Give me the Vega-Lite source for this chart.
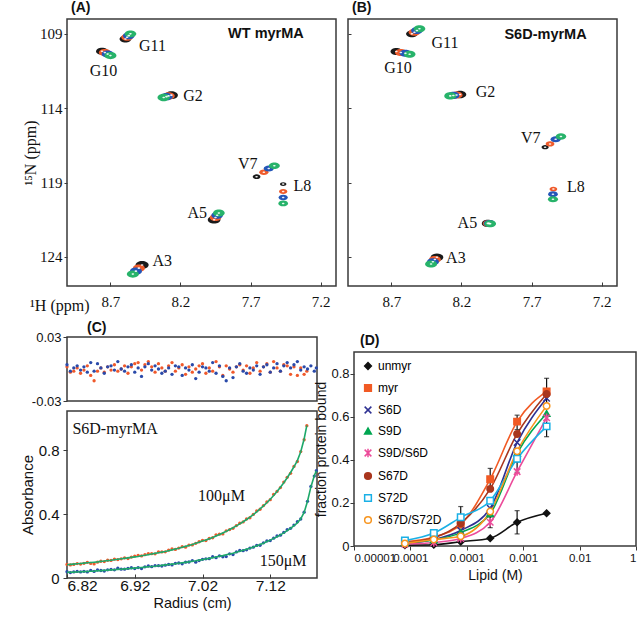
{
"$schema": "https://vega.github.io/schema/vega-lite/v6.json",
"padding": {"left": 3, "top": 0, "right": 0, "bottom": 0},
"background": "white",
"spacing": 6,
"resolve": {"scale": {"fill": "independent", "stroke": "independent", "shape": "independent", "color": "independent", "size": "independent"}, "legend": {"stroke": "independent", "fill": "independent", "shape": "independent", "color": "independent", "size": "independent"}},
"config": {
 "font": "Liberation Sans",
 "view": {"stroke": "#3a3a3a", "strokeWidth": 1.5},
 "axis": {"domain": false, "grid": false, "tickColor": "#3a3a3a", "labelColor": "#111", "titleColor": "#111", "titleFontWeight": "normal", "labelOverlap": false},
 "title": {"anchor": "start", "frame": "group", "fontWeight": "bold", "fontSize": 14, "font": "Liberation Sans", "color": "#111"}
},
"datasets": {
 "nmr": [
  {"panel":"A","res":"G11","step":"0","H":8.593,"N":109.34,"int":0.8},{"panel":"A","res":"G11","step":"1","H":8.581,"N":109.23,"int":0.8},{"panel":"A","res":"G11","step":"2","H":8.569,"N":109.12,"int":0.8},{"panel":"A","res":"G11","step":"3","H":8.557,"N":109.0,"int":0.8},
  {"panel":"A","res":"G10","step":"0","H":8.76,"N":110.17,"int":0.85},{"panel":"A","res":"G10","step":"1","H":8.74,"N":110.26,"int":0.85},{"panel":"A","res":"G10","step":"2","H":8.72,"N":110.36,"int":0.85},{"panel":"A","res":"G10","step":"3","H":8.70,"N":110.46,"int":0.85},
  {"panel":"A","res":"G2","step":"0","H":8.265,"N":113.12,"int":1.0},{"panel":"A","res":"G2","step":"1","H":8.285,"N":113.17,"int":0.9},{"panel":"A","res":"G2","step":"2","H":8.30,"N":113.22,"int":0.9},{"panel":"A","res":"G2","step":"3","H":8.32,"N":113.28,"int":0.9},
  {"panel":"A","res":"A3","step":"0","H":8.474,"N":124.54,"int":1.0},{"panel":"A","res":"A3","step":"1","H":8.497,"N":124.75,"int":0.85},{"panel":"A","res":"A3","step":"2","H":8.518,"N":124.95,"int":0.85},{"panel":"A","res":"A3","step":"3","H":8.54,"N":125.15,"int":0.85},
  {"panel":"A","res":"A5","step":"0","H":7.96,"N":121.5,"int":0.95},{"panel":"A","res":"A5","step":"1","H":7.95,"N":121.35,"int":0.8},{"panel":"A","res":"A5","step":"2","H":7.938,"N":121.2,"int":0.8},{"panel":"A","res":"A5","step":"3","H":7.926,"N":121.05,"int":0.8},
  {"panel":"A","res":"V7","step":"0","H":7.657,"N":118.6,"int":0.35},{"panel":"A","res":"V7","step":"1","H":7.605,"N":118.3,"int":0.5},{"panel":"A","res":"V7","step":"2","H":7.57,"N":118.05,"int":0.6},{"panel":"A","res":"V7","step":"3","H":7.53,"N":117.87,"int":0.7},
  {"panel":"A","res":"L8","step":"0","H":7.467,"N":119.1,"int":0.25},{"panel":"A","res":"L8","step":"1","H":7.467,"N":119.6,"int":0.4},{"panel":"A","res":"L8","step":"2","H":7.467,"N":120.0,"int":0.5},{"panel":"A","res":"L8","step":"3","H":7.467,"N":120.4,"int":0.55},
  {"panel":"B","res":"G11","step":"0","H":8.554,"N":109.0,"int":0.8},{"panel":"B","res":"G11","step":"1","H":8.536,"N":108.89,"int":0.8},{"panel":"B","res":"G11","step":"2","H":8.518,"N":108.78,"int":0.8},{"panel":"B","res":"G11","step":"3","H":8.5,"N":108.66,"int":0.8},
  {"panel":"B","res":"G10","step":"0","H":8.665,"N":110.19,"int":0.8},{"panel":"B","res":"G10","step":"1","H":8.633,"N":110.25,"int":0.8},{"panel":"B","res":"G10","step":"2","H":8.6,"N":110.31,"int":0.8},{"panel":"B","res":"G10","step":"3","H":8.57,"N":110.37,"int":0.8},
  {"panel":"B","res":"G2","step":"0","H":8.21,"N":113.08,"int":0.9},{"panel":"B","res":"G2","step":"1","H":8.235,"N":113.11,"int":0.85},{"panel":"B","res":"G2","step":"2","H":8.258,"N":113.14,"int":0.85},{"panel":"B","res":"G2","step":"3","H":8.28,"N":113.17,"int":0.85},
  {"panel":"B","res":"A5","step":"0","H":8.012,"N":121.74,"int":0.85},{"panel":"B","res":"A5","step":"1","H":8.006,"N":121.74,"int":0.8},{"panel":"B","res":"A5","step":"2","H":8.0,"N":121.75,"int":0.8},{"panel":"B","res":"A5","step":"3","H":7.995,"N":121.76,"int":0.8},
  {"panel":"B","res":"A3","step":"0","H":8.375,"N":124.02,"int":0.95},{"panel":"B","res":"A3","step":"1","H":8.39,"N":124.17,"int":0.85},{"panel":"B","res":"A3","step":"2","H":8.404,"N":124.32,"int":0.85},{"panel":"B","res":"A3","step":"3","H":8.417,"N":124.47,"int":0.85},
  {"panel":"B","res":"V7","step":"0","H":7.603,"N":116.62,"int":0.3},{"panel":"B","res":"V7","step":"1","H":7.568,"N":116.4,"int":0.45},{"panel":"B","res":"V7","step":"2","H":7.528,"N":116.08,"int":0.6},{"panel":"B","res":"V7","step":"3","H":7.49,"N":115.9,"int":0.65},
  {"panel":"B","res":"L8","step":"1","H":7.544,"N":119.43,"int":0.35},{"panel":"B","res":"L8","step":"2","H":7.547,"N":119.78,"int":0.55},{"panel":"B","res":"L8","step":"3","H":7.547,"N":120.12,"int":0.6}
 ],
 "nmrlab": [
  {"panel":"A","kind":"peak","label":"G11","H":8.40,"N":109.79},{"panel":"A","kind":"peak","label":"G10","H":8.75,"N":111.5},{"panel":"A","kind":"peak","label":"G2","H":8.11,"N":113.17},{"panel":"A","kind":"peak","label":"V7","H":7.72,"N":117.78},{"panel":"A","kind":"peak","label":"L8","H":7.33,"N":119.2},{"panel":"A","kind":"peak","label":"A5","H":8.08,"N":121.05},{"panel":"A","kind":"peak","label":"A3","H":8.33,"N":124.3},
  {"panel":"A","kind":"title","label":"WT myrMA","H":7.59,"N":109.0},
  {"panel":"B","kind":"peak","label":"G11","H":8.318,"N":109.63},{"panel":"B","kind":"peak","label":"G10","H":8.653,"N":111.31},{"panel":"B","kind":"peak","label":"G2","H":8.028,"N":112.88},{"panel":"B","kind":"peak","label":"V7","H":7.705,"N":116.02},{"panel":"B","kind":"peak","label":"L8","H":7.384,"N":119.27},{"panel":"B","kind":"peak","label":"A5","H":8.158,"N":121.74},{"panel":"B","kind":"peak","label":"A3","H":8.24,"N":124.04},
  {"panel":"B","kind":"title","label":"S6D-myrMA","H":7.60,"N":109.07}
 ],
 "auc": [
  {"conc":"100μM","r":6.820,"fit":0.083,"res":0.002,"abs":0.085},{"conc":"100μM","r":6.825,"fit":0.085,"res":-0.003,"abs":0.082},{"conc":"100μM","r":6.830,"fit":0.087,"res":-0.002,"abs":0.085},{"conc":"100μM","r":6.835,"fit":0.089,"res":0.001,"abs":0.090},{"conc":"100μM","r":6.840,"fit":0.091,"res":-0.004,"abs":0.087},{"conc":"100μM","r":6.845,"fit":0.093,"res":-0.001,"abs":0.092},{"conc":"100μM","r":6.850,"fit":0.095,"res":0.003,"abs":0.098},{"conc":"100μM","r":6.855,"fit":0.097,"res":-0.006,"abs":0.091},{"conc":"100μM","r":6.860,"fit":0.099,"res":-0.011,"abs":0.088},{"conc":"100μM","r":6.865,"fit":0.101,"res":-0.002,"abs":0.099},
  {"conc":"100μM","r":6.870,"fit":0.104,"res":0.001,"abs":0.105},{"conc":"100μM","r":6.875,"fit":0.106,"res":-0.003,"abs":0.103},{"conc":"100μM","r":6.880,"fit":0.109,"res":0.002,"abs":0.111},{"conc":"100μM","r":6.885,"fit":0.111,"res":-0.001,"abs":0.110},{"conc":"100μM","r":6.890,"fit":0.114,"res":0.004,"abs":0.118},{"conc":"100μM","r":6.895,"fit":0.117,"res":-0.002,"abs":0.115},{"conc":"100μM","r":6.900,"fit":0.120,"res":0.000,"abs":0.120},{"conc":"100μM","r":6.905,"fit":0.123,"res":0.003,"abs":0.126},{"conc":"100μM","r":6.910,"fit":0.126,"res":-0.004,"abs":0.122},{"conc":"100μM","r":6.915,"fit":0.129,"res":0.002,"abs":0.131},
  {"conc":"100μM","r":6.920,"fit":0.132,"res":0.005,"abs":0.137},{"conc":"100μM","r":6.925,"fit":0.135,"res":0.006,"abs":0.141},{"conc":"100μM","r":6.930,"fit":0.139,"res":-0.001,"abs":0.138},{"conc":"100μM","r":6.935,"fit":0.142,"res":0.004,"abs":0.146},{"conc":"100μM","r":6.940,"fit":0.146,"res":0.007,"abs":0.153},{"conc":"100μM","r":6.945,"fit":0.150,"res":0.002,"abs":0.152},{"conc":"100μM","r":6.950,"fit":0.154,"res":-0.003,"abs":0.151},{"conc":"100μM","r":6.955,"fit":0.158,"res":0.005,"abs":0.163},{"conc":"100μM","r":6.960,"fit":0.162,"res":0.001,"abs":0.163},{"conc":"100μM","r":6.965,"fit":0.166,"res":-0.002,"abs":0.164},
  {"conc":"100μM","r":6.970,"fit":0.171,"res":0.003,"abs":0.174},{"conc":"100μM","r":6.975,"fit":0.176,"res":0.006,"abs":0.182},{"conc":"100μM","r":6.980,"fit":0.181,"res":-0.002,"abs":0.179},{"conc":"100μM","r":6.985,"fit":0.186,"res":0.001,"abs":0.187},{"conc":"100μM","r":6.990,"fit":0.192,"res":0.004,"abs":0.196},{"conc":"100μM","r":6.995,"fit":0.198,"res":-0.005,"abs":0.193},{"conc":"100μM","r":7.000,"fit":0.204,"res":0.002,"abs":0.206},{"conc":"100μM","r":7.005,"fit":0.210,"res":-0.003,"abs":0.207},{"conc":"100μM","r":7.010,"fit":0.217,"res":0.000,"abs":0.217},{"conc":"100μM","r":7.015,"fit":0.224,"res":0.003,"abs":0.227},
  {"conc":"100μM","r":7.020,"fit":0.231,"res":0.005,"abs":0.236},{"conc":"100μM","r":7.025,"fit":0.238,"res":-0.004,"abs":0.234},{"conc":"100μM","r":7.030,"fit":0.246,"res":0.001,"abs":0.247},{"conc":"100μM","r":7.035,"fit":0.254,"res":-0.002,"abs":0.252},{"conc":"100μM","r":7.040,"fit":0.263,"res":0.007,"abs":0.270},{"conc":"100μM","r":7.045,"fit":0.272,"res":0.002,"abs":0.274},{"conc":"100μM","r":7.050,"fit":0.282,"res":-0.006,"abs":0.276},{"conc":"100μM","r":7.055,"fit":0.292,"res":0.003,"abs":0.295},{"conc":"100μM","r":7.060,"fit":0.303,"res":0.000,"abs":0.303},{"conc":"100μM","r":7.065,"fit":0.314,"res":-0.003,"abs":0.311},
  {"conc":"100μM","r":7.070,"fit":0.326,"res":0.002,"abs":0.328},{"conc":"100μM","r":7.075,"fit":0.339,"res":0.004,"abs":0.343},{"conc":"100μM","r":7.080,"fit":0.352,"res":-0.001,"abs":0.351},{"conc":"100μM","r":7.085,"fit":0.366,"res":0.003,"abs":0.369},{"conc":"100μM","r":7.090,"fit":0.381,"res":-0.004,"abs":0.377},{"conc":"100μM","r":7.095,"fit":0.397,"res":0.001,"abs":0.398},{"conc":"100μM","r":7.100,"fit":0.414,"res":0.006,"abs":0.420},{"conc":"100μM","r":7.105,"fit":0.432,"res":-0.002,"abs":0.430},{"conc":"100μM","r":7.110,"fit":0.451,"res":0.002,"abs":0.453},{"conc":"100μM","r":7.115,"fit":0.471,"res":0.005,"abs":0.476},
  {"conc":"100μM","r":7.120,"fit":0.493,"res":-0.003,"abs":0.490},{"conc":"100μM","r":7.125,"fit":0.516,"res":0.007,"abs":0.523},{"conc":"100μM","r":7.130,"fit":0.541,"res":0.001,"abs":0.542},{"conc":"100μM","r":7.135,"fit":0.568,"res":-0.002,"abs":0.566},{"conc":"100μM","r":7.140,"fit":0.596,"res":0.004,"abs":0.600},{"conc":"100μM","r":7.145,"fit":0.627,"res":0.003,"abs":0.630},{"conc":"100μM","r":7.150,"fit":0.660,"res":-0.005,"abs":0.655},{"conc":"100μM","r":7.155,"fit":0.696,"res":0.002,"abs":0.698},{"conc":"100μM","r":7.160,"fit":0.735,"res":-0.006,"abs":0.729},{"conc":"100μM","r":7.165,"fit":0.790,"res":0.001,"abs":0.791},
  {"conc":"100μM","r":7.170,"fit":0.870,"res":-0.005,"abs":0.865},{"conc":"100μM","r":7.174,"fit":0.955,"res":-0.002,"abs":0.953},
  {"conc":"150μM","r":6.820,"fit":0.035,"res":0.004,"abs":0.039},{"conc":"150μM","r":6.825,"fit":0.036,"res":-0.002,"abs":0.034},{"conc":"150μM","r":6.830,"fit":0.037,"res":0.001,"abs":0.038},{"conc":"150μM","r":6.835,"fit":0.038,"res":0.003,"abs":0.041},{"conc":"150μM","r":6.840,"fit":0.039,"res":-0.001,"abs":0.038},{"conc":"150μM","r":6.845,"fit":0.040,"res":0.002,"abs":0.042},{"conc":"150μM","r":6.850,"fit":0.041,"res":-0.003,"abs":0.038},{"conc":"150μM","r":6.855,"fit":0.042,"res":0.006,"abs":0.048},{"conc":"150μM","r":6.860,"fit":0.043,"res":-0.002,"abs":0.041},{"conc":"150μM","r":6.865,"fit":0.045,"res":0.005,"abs":0.050},
  {"conc":"150μM","r":6.870,"fit":0.046,"res":0.001,"abs":0.047},{"conc":"150μM","r":6.875,"fit":0.048,"res":-0.004,"abs":0.044},{"conc":"150μM","r":6.880,"fit":0.049,"res":0.002,"abs":0.051},{"conc":"150μM","r":6.885,"fit":0.051,"res":0.003,"abs":0.054},{"conc":"150μM","r":6.890,"fit":0.052,"res":-0.001,"abs":0.051},{"conc":"150μM","r":6.895,"fit":0.054,"res":0.007,"abs":0.061},{"conc":"150μM","r":6.900,"fit":0.055,"res":0.000,"abs":0.055},{"conc":"150μM","r":6.905,"fit":0.057,"res":-0.002,"abs":0.055},{"conc":"150μM","r":6.910,"fit":0.058,"res":0.002,"abs":0.060},{"conc":"150μM","r":6.915,"fit":0.060,"res":0.004,"abs":0.064},
  {"conc":"150μM","r":6.920,"fit":0.062,"res":-0.003,"abs":0.059},{"conc":"150μM","r":6.925,"fit":0.064,"res":0.001,"abs":0.065},{"conc":"150μM","r":6.930,"fit":0.066,"res":-0.007,"abs":0.059},{"conc":"150μM","r":6.935,"fit":0.068,"res":0.002,"abs":0.070},{"conc":"150μM","r":6.940,"fit":0.070,"res":0.005,"abs":0.075},{"conc":"150μM","r":6.945,"fit":0.072,"res":-0.001,"abs":0.071},{"conc":"150μM","r":6.950,"fit":0.074,"res":0.003,"abs":0.077},{"conc":"150μM","r":6.955,"fit":0.077,"res":0.000,"abs":0.077},{"conc":"150μM","r":6.960,"fit":0.079,"res":-0.004,"abs":0.075},{"conc":"150μM","r":6.965,"fit":0.082,"res":-0.002,"abs":0.080},
  {"conc":"150μM","r":6.970,"fit":0.084,"res":0.001,"abs":0.085},{"conc":"150μM","r":6.975,"fit":0.087,"res":-0.005,"abs":0.082},{"conc":"150μM","r":6.980,"fit":0.089,"res":0.003,"abs":0.092},{"conc":"150μM","r":6.985,"fit":0.092,"res":0.002,"abs":0.094},{"conc":"150μM","r":6.990,"fit":0.095,"res":-0.006,"abs":0.089},{"conc":"150μM","r":6.995,"fit":0.098,"res":0.001,"abs":0.099},{"conc":"150μM","r":7.000,"fit":0.101,"res":-0.001,"abs":0.100},{"conc":"150μM","r":7.005,"fit":0.105,"res":0.004,"abs":0.109},{"conc":"150μM","r":7.010,"fit":0.108,"res":-0.009,"abs":0.099},{"conc":"150μM","r":7.015,"fit":0.112,"res":-0.003,"abs":0.109},
  {"conc":"150μM","r":7.020,"fit":0.115,"res":0.002,"abs":0.117},{"conc":"150μM","r":7.025,"fit":0.119,"res":0.001,"abs":0.120},{"conc":"150μM","r":7.030,"fit":0.123,"res":-0.002,"abs":0.121},{"conc":"150μM","r":7.035,"fit":0.127,"res":0.006,"abs":0.133},{"conc":"150μM","r":7.040,"fit":0.131,"res":-0.004,"abs":0.127},{"conc":"150μM","r":7.045,"fit":0.136,"res":0.003,"abs":0.139},{"conc":"150μM","r":7.050,"fit":0.140,"res":-0.007,"abs":0.133},{"conc":"150μM","r":7.055,"fit":0.145,"res":-0.011,"abs":0.134},{"conc":"150μM","r":7.060,"fit":0.150,"res":0.001,"abs":0.151},{"conc":"150μM","r":7.065,"fit":0.155,"res":-0.008,"abs":0.147},
  {"conc":"150μM","r":7.070,"fit":0.161,"res":0.002,"abs":0.163},{"conc":"150μM","r":7.075,"fit":0.167,"res":0.005,"abs":0.172},{"conc":"150μM","r":7.080,"fit":0.173,"res":-0.002,"abs":0.171},{"conc":"150μM","r":7.085,"fit":0.180,"res":-0.004,"abs":0.176},{"conc":"150μM","r":7.090,"fit":0.186,"res":0.001,"abs":0.187},{"conc":"150μM","r":7.095,"fit":0.194,"res":-0.001,"abs":0.193},{"conc":"150μM","r":7.100,"fit":0.201,"res":0.003,"abs":0.204},{"conc":"150μM","r":7.105,"fit":0.210,"res":-0.005,"abs":0.205},{"conc":"150μM","r":7.110,"fit":0.218,"res":0.002,"abs":0.220},{"conc":"150μM","r":7.115,"fit":0.228,"res":0.004,"abs":0.232},
  {"conc":"150μM","r":7.120,"fit":0.237,"res":-0.003,"abs":0.234},{"conc":"150μM","r":7.125,"fit":0.248,"res":0.001,"abs":0.249},{"conc":"150μM","r":7.130,"fit":0.258,"res":0.005,"abs":0.263},{"conc":"150μM","r":7.135,"fit":0.270,"res":-0.002,"abs":0.268},{"conc":"150μM","r":7.140,"fit":0.282,"res":0.003,"abs":0.285},{"conc":"150μM","r":7.145,"fit":0.296,"res":0.006,"abs":0.302},{"conc":"150μM","r":7.150,"fit":0.310,"res":0.001,"abs":0.311},{"conc":"150μM","r":7.155,"fit":0.327,"res":0.004,"abs":0.331},{"conc":"150μM","r":7.160,"fit":0.345,"res":0.007,"abs":0.352},{"conc":"150μM","r":7.165,"fit":0.370,"res":-0.001,"abs":0.369},
  {"conc":"150μM","r":7.170,"fit":0.410,"res":0.002,"abs":0.412},{"conc":"150μM","r":7.175,"fit":0.480,"res":0.000,"abs":0.480},{"conc":"150μM","r":7.180,"fit":0.570,"res":0.003,"abs":0.573},{"conc":"150μM","r":7.185,"fit":0.640,"res":-0.002,"abs":0.638},{"conc":"150μM","r":7.188,"fit":0.670,"res":0.001,"abs":0.671}
 ],
 "clab": [
  {"label":"S6D-myrMA","r":6.828,"abs":0.93,"kind":"name"},
  {"label":"100μM","r":7.048,"abs":0.51,"kind":"conc"},
  {"label":"150μM","r":7.139,"abs":0.105,"kind":"conc"}
 ],
 "bind": [
  {"series":"unmyr","lipid":0.00008,"frac":0.004},{"series":"unmyr","lipid":0.00026,"frac":0.006},{"series":"unmyr","lipid":0.00078,"frac":0.02},{"series":"unmyr","lipid":0.0026,"frac":0.036},{"series":"unmyr","lipid":0.0078,"frac":0.11},{"series":"unmyr","lipid":0.026,"frac":0.152},
  {"series":"myr","lipid":0.00008,"frac":0.02},{"series":"myr","lipid":0.00026,"frac":0.042},{"series":"myr","lipid":0.00078,"frac":0.10},{"series":"myr","lipid":0.0026,"frac":0.31},{"series":"myr","lipid":0.0078,"frac":0.577},{"series":"myr","lipid":0.026,"frac":0.717},
  {"series":"S6D","lipid":0.00008,"frac":0.012},{"series":"S6D","lipid":0.00026,"frac":0.03},{"series":"S6D","lipid":0.00078,"frac":0.072},{"series":"S6D","lipid":0.0026,"frac":0.175},{"series":"S6D","lipid":0.0078,"frac":0.48},{"series":"S6D","lipid":0.026,"frac":0.685},
  {"series":"S9D","lipid":0.00008,"frac":0.015},{"series":"S9D","lipid":0.00026,"frac":0.028},{"series":"S9D","lipid":0.00078,"frac":0.062},{"series":"S9D","lipid":0.0026,"frac":0.15},{"series":"S9D","lipid":0.0078,"frac":0.43},{"series":"S9D","lipid":0.026,"frac":0.615},
  {"series":"S9D/S6D","lipid":0.00008,"frac":0.008},{"series":"S9D/S6D","lipid":0.00026,"frac":0.016},{"series":"S9D/S6D","lipid":0.00078,"frac":0.035},{"series":"S9D/S6D","lipid":0.0026,"frac":0.11},{"series":"S9D/S6D","lipid":0.0078,"frac":0.345},{"series":"S9D/S6D","lipid":0.026,"frac":0.595},
  {"series":"S67D","lipid":0.00008,"frac":0.015},{"series":"S67D","lipid":0.00026,"frac":0.038},{"series":"S67D","lipid":0.00078,"frac":0.105},{"series":"S67D","lipid":0.0026,"frac":0.265},{"series":"S67D","lipid":0.0078,"frac":0.52},{"series":"S67D","lipid":0.026,"frac":0.705},
  {"series":"S72D","lipid":0.00008,"frac":0.025},{"series":"S72D","lipid":0.00026,"frac":0.06},{"series":"S72D","lipid":0.00078,"frac":0.133},{"series":"S72D","lipid":0.0026,"frac":0.21},{"series":"S72D","lipid":0.0078,"frac":0.405},{"series":"S72D","lipid":0.026,"frac":0.555},
  {"series":"S67D/S72D","lipid":0.00008,"frac":0.012},{"series":"S67D/S72D","lipid":0.00026,"frac":0.03},{"series":"S67D/S72D","lipid":0.00078,"frac":0.045},{"series":"S67D/S72D","lipid":0.0026,"frac":0.16},{"series":"S67D/S72D","lipid":0.0078,"frac":0.44},{"series":"S67D/S72D","lipid":0.026,"frac":0.65}
 ],
 "err": [
  {"series":"unmyr","lipid":0.0078,"lo":0.056,"hi":0.164},
  {"series":"S72D","lipid":0.00078,"lo":0.085,"hi":0.183},
  {"series":"myr","lipid":0.0026,"lo":0.26,"hi":0.36},
  {"series":"S9D/S6D","lipid":0.0026,"lo":0.085,"hi":0.135},
  {"series":"myr","lipid":0.0078,"lo":0.54,"hi":0.607},
  {"series":"S9D/S6D","lipid":0.0078,"lo":0.342,"hi":0.39},
  {"series":"myr","lipid":0.026,"lo":0.655,"hi":0.778},
  {"series":"S72D","lipid":0.026,"lo":0.507,"hi":0.6}
 ]
},
"vconcat": [
 {"hconcat": [
  {"width": 269, "height": 267,
   "title": {"text": "(A)", "dx": 4, "offset": 4},
   "layer": [
    {"data": {"name": "nmr"}, "transform": [{"filter": "datum.panel == 'A'"}],
     "mark": {"type": "point", "shape": "M-1,0A1,0.6,0,1,1,1,0A1,0.6,0,1,1,-1,0Z", "filled": true, "opacity": 1},
     "encoding": {
      "x": {"field": "H", "type": "quantitative", "scale": {"domain": [7.09, 9.01], "reverse": true, "zero": false, "nice": false},
            "axis": {"values": [8.7, 8.2, 7.7, 7.2], "format": ".1f", "tickSize": -4, "labelPadding": 12, "labelFont": "Liberation Serif", "labelFontSize": 15, "title": "¹H (ppm)", "titleFont": "Liberation Serif", "titleFontSize": 16, "titleX": 22, "titleY": 19, "titleAlign": "right", "titleBaseline": "middle", "titleAngle": 0}},
      "y": {"field": "N", "type": "quantitative", "scale": {"domain": [108, 125.95], "reverse": true, "zero": false, "nice": false},
            "axis": {"values": [109, 114, 119, 124], "tickSize": 3, "labelPadding": 2, "labelFont": "Liberation Serif", "labelFontSize": 15, "title": ["", "¹⁵N (ppm)"], "titleLineHeight": 18, "titleFont": "Liberation Serif", "titleFontSize": 16, "titlePadding": 1}},
      "fill": {"field": "step", "type": "nominal", "scale": {"domain": ["0", "1", "2", "3"], "range": ["#1a1a1a", "#ef5b2b", "#2456b8", "#27b36a"]}, "legend": null},
      "size": {"field": "int", "type": "quantitative", "scale": {"domain": [0, 1], "range": [0, 170]}, "legend": null}
     }},
    {"data": {"name": "nmr"}, "transform": [{"filter": "datum.panel == 'A'"}],
     "mark": {"type": "point", "shape": "M-1,0A1,0.6,0,1,1,1,0A1,0.6,0,1,1,-1,0Z", "filled": true, "color": "#ffffff", "size": 7, "opacity": 0.9},
     "encoding": {"x": {"field": "H", "type": "quantitative"}, "y": {"field": "N", "type": "quantitative"}}},
    {"data": {"name": "nmrlab"}, "transform": [{"filter": "datum.panel == 'A' && datum.kind == 'peak'"}],
     "mark": {"type": "text", "font": "Liberation Serif", "fontSize": 16, "color": "#111"},
     "encoding": {"x": {"field": "H", "type": "quantitative"}, "y": {"field": "N", "type": "quantitative"}, "text": {"field": "label"}}},
    {"data": {"name": "nmrlab"}, "transform": [{"filter": "datum.panel == 'A' && datum.kind == 'title'"}],
     "mark": {"type": "text", "font": "Liberation Sans", "fontSize": 14.5, "fontWeight": "bold", "color": "#111"},
     "encoding": {"x": {"field": "H", "type": "quantitative"}, "y": {"field": "N", "type": "quantitative"}, "text": {"field": "label"}}}
   ]},
  {"width": 269, "height": 267,
   "title": {"text": "(B)", "dx": 4, "offset": 4},
   "layer": [
    {"data": {"name": "nmr"}, "transform": [{"filter": "datum.panel == 'B'"}],
     "mark": {"type": "point", "shape": "M-1,0A1,0.6,0,1,1,1,0A1,0.6,0,1,1,-1,0Z", "filled": true, "opacity": 1},
     "encoding": {
      "x": {"field": "H", "type": "quantitative", "scale": {"domain": [7.09, 9.01], "reverse": true, "zero": false, "nice": false},
            "axis": {"values": [8.7, 8.2, 7.7, 7.2], "format": ".1f", "tickSize": -4, "labelPadding": 12, "labelFont": "Liberation Serif", "labelFontSize": 15, "title": null}},
      "y": {"field": "N", "type": "quantitative", "scale": {"domain": [108, 125.95], "reverse": true, "zero": false, "nice": false},
            "axis": {"values": [109, 114, 119, 124], "tickSize": -3, "labels": false, "title": null}},
      "fill": {"field": "step", "type": "nominal", "scale": {"domain": ["0", "1", "2", "3"], "range": ["#1a1a1a", "#ef5b2b", "#2456b8", "#27b36a"]}, "legend": null},
      "size": {"field": "int", "type": "quantitative", "scale": {"domain": [0, 1], "range": [0, 170]}, "legend": null}
     }},
    {"data": {"name": "nmr"}, "transform": [{"filter": "datum.panel == 'B'"}],
     "mark": {"type": "point", "shape": "M-1,0A1,0.6,0,1,1,1,0A1,0.6,0,1,1,-1,0Z", "filled": true, "color": "#ffffff", "size": 7, "opacity": 0.9},
     "encoding": {"x": {"field": "H", "type": "quantitative"}, "y": {"field": "N", "type": "quantitative"}}},
    {"data": {"name": "nmrlab"}, "transform": [{"filter": "datum.panel == 'B' && datum.kind == 'peak'"}],
     "mark": {"type": "text", "font": "Liberation Serif", "fontSize": 16, "color": "#111"},
     "encoding": {"x": {"field": "H", "type": "quantitative"}, "y": {"field": "N", "type": "quantitative"}, "text": {"field": "label"}}},
    {"data": {"name": "nmrlab"}, "transform": [{"filter": "datum.panel == 'B' && datum.kind == 'title'"}],
     "mark": {"type": "text", "font": "Liberation Sans", "fontSize": 14.5, "fontWeight": "bold", "color": "#111"},
     "encoding": {"x": {"field": "H", "type": "quantitative"}, "y": {"field": "N", "type": "quantitative"}, "text": {"field": "label"}}}
   ]}
 ], "spacing": 9},
 {"concat": [
  {"vconcat": [
   {"width": 250, "height": 64,
    "title": {"text": "(C)", "dx": 20, "offset": -4},
    "layer": [
     {"data": {"name": "auc"},
      "mark": {"type": "circle", "size": 11, "opacity": 1},
      "encoding": {
       "x": {"field": "r", "type": "quantitative", "scale": {"domain": [6.82, 7.189], "zero": false, "nice": false}, "axis": null},
       "y": {"field": "res", "type": "quantitative", "scale": {"domain": [-0.03, 0.03], "nice": false},
             "axis": {"values": [-0.03, 0, 0.03], "labelExpr": "datum.value == 0 ? '0' : (datum.value < 0 ? '-0.03' : '0.03')", "title": null, "labelFontSize": 13, "tickSize": 4, "labelPadding": 2}},
       "color": {"field": "conc", "type": "nominal", "scale": {"domain": ["100μM", "150μM"], "range": ["#f0592b", "#2a4aaa"]}, "legend": null}
      }},
     {"mark": {"type": "rule", "color": "#222", "strokeWidth": 1.2}, "encoding": {"y": {"datum": 0, "type": "quantitative"}}}
    ]},
   {"width": 250, "height": 167,
    "layer": [
     {"data": {"name": "auc"},
      "mark": {"type": "circle", "size": 11, "opacity": 1},
      "encoding": {
       "x": {"field": "r", "type": "quantitative", "scale": {"domain": [6.82, 7.189], "zero": false, "nice": false},
             "axis": {"values": [6.82, 6.87, 6.92, 6.97, 7.02, 7.07, 7.12, 7.17], "labelExpr": "round(datum.value*100) % 10 == 2 ? format(datum.value, '.2f') : ''", "tickSize": -4, "labelPadding": 4, "labelFontSize": 15.5, "title": "Radius (cm)", "titleFontSize": 14.5, "titlePadding": 3}},
       "y": {"field": "abs", "type": "quantitative", "scale": {"domain": [0, 1.045], "nice": false},
             "axis": {"values": [0, 0.1, 0.2, 0.3, 0.4, 0.5, 0.6, 0.7, 0.8, 0.9, 1.0], "labelExpr": "round(datum.value*10) % 2 == 0 ? (datum.value == 0 ? '0' : format(datum.value, '.1f')) : ''", "tickSize": 4, "labelPadding": 4, "labelFontSize": 15, "title": "Absorbance", "titleFontSize": 15, "titlePadding": 3}},
       "color": {"field": "conc", "type": "nominal", "scale": {"domain": ["100μM", "150μM"], "range": ["#f0592b", "#2a4aaa"]}, "legend": null}
      }},
     {"data": {"name": "auc"},
      "mark": {"type": "line", "color": "#1ea86a", "strokeWidth": 1.6},
      "encoding": {"x": {"field": "r", "type": "quantitative"}, "y": {"field": "fit", "type": "quantitative"}, "detail": {"field": "conc", "type": "nominal"}}},
     {"data": {"name": "clab"}, "transform": [{"filter": "datum.kind == 'name'"}],
      "mark": {"type": "text", "font": "Liberation Serif", "fontSize": 16, "color": "#111", "align": "left"},
      "encoding": {"x": {"field": "r", "type": "quantitative"}, "y": {"field": "abs", "type": "quantitative"}, "text": {"field": "label"}}},
     {"data": {"name": "clab"}, "transform": [{"filter": "datum.kind == 'conc'"}],
      "mark": {"type": "text", "font": "Liberation Serif", "fontSize": 16, "color": "#111", "align": "center"},
      "encoding": {"x": {"field": "r", "type": "quantitative"}, "y": {"field": "abs", "type": "quantitative"}, "text": {"field": "label"}}}
    ]}
  ], "spacing": 1},
  {"vconcat": [
   {"width": 282, "height": 1, "view": {"stroke": null},
    "data": {"values": [{"v": 0}]},
    "mark": {"type": "point", "opacity": 0},
    "encoding": {}},
   {"width": 282, "height": 194,
    "title": {"text": "(D)", "dx": 6, "offset": 4},
    "layer": [
     {"data": {"name": "bind"},
      "mark": {"type": "line", "interpolate": "monotone", "strokeWidth": 1.6},
      "encoding": {
       "x": {"field": "lipid", "type": "quantitative", "scale": {"type": "log", "domain": [0.00001, 1], "nice": false},
             "axis": {"values": [0.00001, 0.0001, 0.001, 0.01, 0.1, 1], "labelExpr": "datum.value < 0.00005 ? '0.00001' : datum.value < 0.0005 ? '0.0001' : datum.value < 0.005 ? '0.0001' : datum.value < 0.05 ? '0.001' : datum.value < 0.5 ? '0.01' : '1'", "tickSize": 4, "labelPadding": 2, "labelFontSize": 11.5, "title": "Lipid (M)", "titleFontSize": 14, "titlePadding": 5}},
       "y": {"field": "frac", "type": "quantitative", "title": "fraction protein bound", "scale": {"domain": [0, 0.9], "nice": false},
             "axis": {"values": [0, 0.1, 0.2, 0.3, 0.4, 0.5, 0.6, 0.7, 0.8, 0.9], "labelExpr": "datum.value == 0 ? '0' : format(datum.value, '.1f')", "tickSize": 4, "labelPadding": 1, "labelFontSize": 13, "title": "fraction protein bound", "titleFontSize": 14, "titlePadding": 2}},
       "stroke": {"field": "series", "type": "nominal",
                  "scale": {"domain": ["unmyr", "myr", "S6D", "S9D", "S9D/S6D", "S67D", "S72D", "S67D/S72D"], "range": ["#111111", "#f15a24", "#2e3192", "#00a651", "#ec4b9a", "#a9361d", "#1ab0e6", "#f7941d"]},
                  "legend": {"title": null, "orient": "top-left", "offset": 8, "labelFontSize": 12, "symbolSize": 45, "rowPadding": 8, "symbolStrokeWidth": 1.5, "padding": 0}}
      }},
     {"data": {"name": "err"},
      "mark": {"type": "errorbar", "ticks": true, "color": "#111", "thickness": 1.2},
      "encoding": {"x": {"field": "lipid", "type": "quantitative"}, "y": {"field": "lo", "type": "quantitative", "title": "fraction protein bound"}, "y2": {"field": "hi"}}},
     {"data": {"name": "bind"},
      "mark": {"type": "point", "strokeWidth": 1.5, "size": 42, "opacity": 1},
      "encoding": {
       "x": {"field": "lipid", "type": "quantitative"},
       "y": {"field": "frac", "type": "quantitative", "title": "fraction protein bound"},
       "shape": {"field": "series", "type": "nominal",
                 "scale": {"domain": ["unmyr", "myr", "S6D", "S9D", "S9D/S6D", "S67D", "S72D", "S67D/S72D"], "range": ["diamond", "square", "M-1,-1L1,1M-1,1L1,-1", "triangle-up", "M-1,-1L1,1M-1,1L1,-1M0,-1.3L0,1.3", "circle", "square", "circle"]},
                 "legend": {"title": null, "orient": "top-left", "offset": 8, "labelFontSize": 12, "symbolSize": 45, "rowPadding": 8, "symbolStrokeWidth": 1.5, "padding": 0}},
       "fill": {"field": "series", "type": "nominal",
                "scale": {"domain": ["unmyr", "myr", "S6D", "S9D", "S9D/S6D", "S67D", "S72D", "S67D/S72D"], "range": ["#111111", "#f15a24", "#2e3192", "#00a651", "#ec4b9a", "#a9361d", "#ffffff", "#ffffff"]},
                "legend": {"title": null, "orient": "top-left", "offset": 8, "labelFontSize": 12, "symbolSize": 45, "rowPadding": 8, "symbolStrokeWidth": 1.5, "padding": 0}},
       "stroke": {"field": "series", "type": "nominal"}
      }}
    ]}
  ], "spacing": -8,
  "resolve": {"legend": {"stroke": "independent", "fill": "independent", "shape": "independent"}}}
 ], "columns": 2, "align": "none", "spacing": -7,
 "resolve": {"scale": {"fill": "independent", "stroke": "independent", "shape": "independent", "color": "independent", "size": "independent"}, "legend": {"stroke": "independent", "fill": "independent", "shape": "independent", "color": "independent", "size": "independent"}}}
]
}
